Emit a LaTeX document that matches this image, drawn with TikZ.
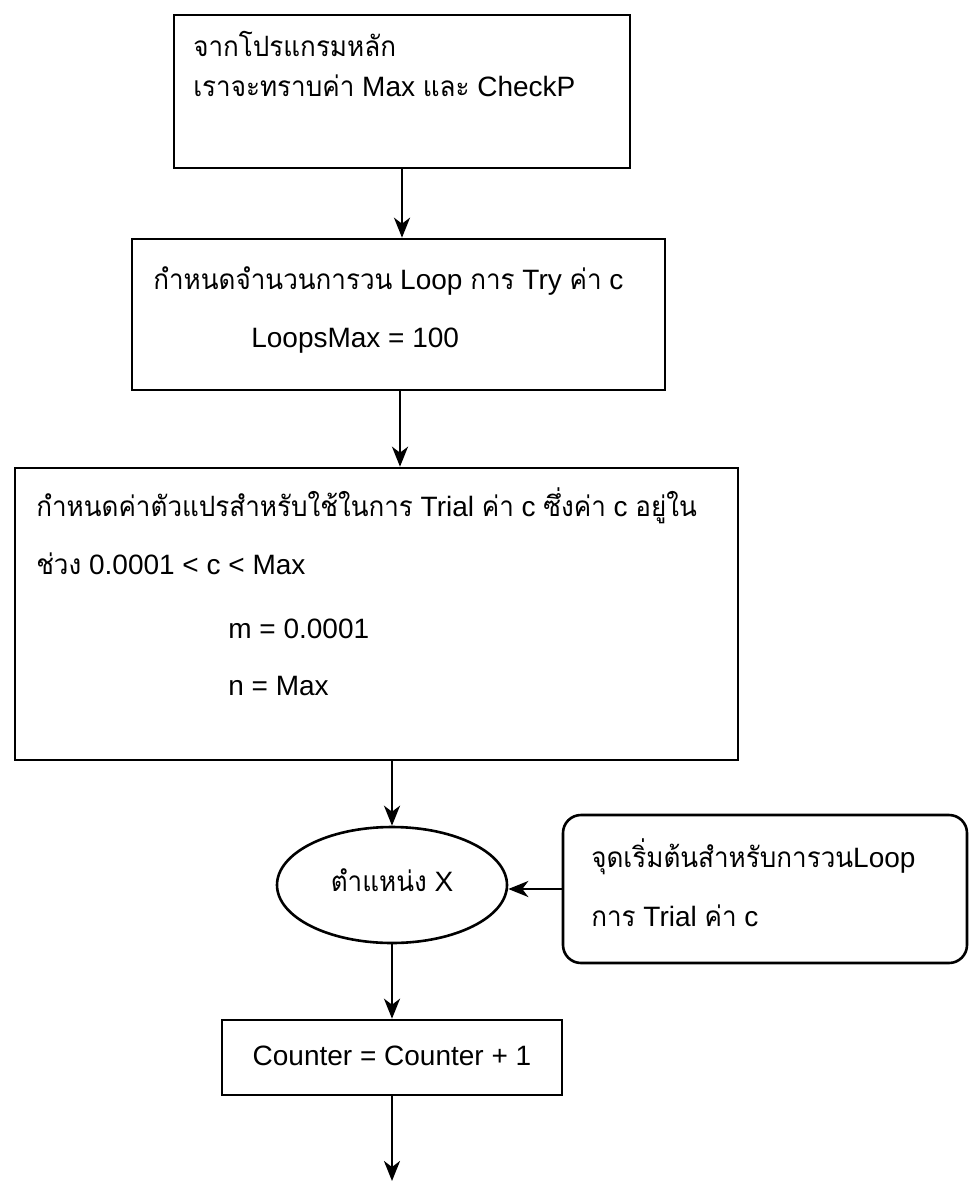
\documentclass[tikz,border=0pt]{standalone}
\usepackage{fontspec}
\setmainfont{Liberation Sans}
\newfontfamily\thaifont[Script=Thai,FakeStretch=0.93]{Loma}
\usetikzlibrary{arrows.meta,shapes.geometric,fit,calc}

\begin{document}
\begin{tikzpicture}[x=0.5pt,y=-0.5pt,
  line width=1.3pt,
  box/.style={draw,rectangle,inner sep=0pt},
  rbox/.style={draw,rectangle,rounded corners=9pt,inner sep=0pt},
  oval/.style={draw,ellipse,inner sep=0pt,minimum width=115pt,minimum height=58pt},
  txt/.style={inner sep=0pt,anchor=base west,font=\fontsize{14}{16}\selectfont},
  ctxt/.style={inner sep=0pt,anchor=base,font=\fontsize{14}{16}\selectfont},
  arr/.style={-{Stealth[length=10pt,width=8pt,inset=3pt]}}]
\useasboundingbox (0,0) rectangle (970,1183);

% process boxes
\node[box,fit={(174,15) (630,168)}] (b1) {};
\node[box,fit={(132,239) (665,390)}] (b2) {};
\node[box,fit={(15,468) (738,760)}] (b3) {};
\node[oval] (ell) at (392,885) {};
\node[rbox,fit={(563,815) (967,963)}] (rb) {};
\node[box,fit={(222,1020) (562,1095)}] (cnt) {};

% texts
\node[txt] (t1a) at (192,56) {{\thaifont จากโปรแกรมหลัก}};
\node[txt] (t1b) at (192,96) {{\thaifont เราจะทราบค่า} Max {\thaifont และ} CheckP};
\node[txt] (t2a) at (152,289) {{\thaifont กำหนดจำนวนการวน} Loop {\thaifont การ} Try {\thaifont ค่า} c};
\node[txt] (t2b) at (250,347) {LoopsMax = 100};
\node[txt] (t3a) at (35,516) {{\thaifont กำหนดค่าตัวแปรสำหรับใช้ในการ} Trial {\thaifont ค่า} c {\thaifont ซึ่งค่า} c {\thaifont อยู่ใน}};
\node[txt] (t3b) at (35,574) {{\thaifont ช่วง} 0.0001 < c < Max};
\node[txt] (t3c) at (227,638) {m = 0.0001};
\node[txt] (t3d) at (227,695) {n = Max};
\node[ctxt] (te) at (392,891) {{\thaifont ตำแหน่ง} X};
\node[txt] (tra) at (590,867) {{\thaifont จุดเริ่มต้นสำหรับการวน}Loop};
\node[txt] (trb) at (590,926) {{\thaifont การ} Trial {\thaifont ค่า} c};
\node[ctxt] (tc) at (392,1065) {Counter = Counter + 1};

% connectors
\coordinate (c1) at (402,0);
\coordinate (c2) at (400,0);
\coordinate (fin) at (392,1181);
\draw[arr] (b1.south -| c1) -- (b2.north -| c1);
\draw[arr] (b2.south -| c2) -- (b3.north -| c2);
\draw[arr] (b3.south -| ell.north) -- (ell.north);
\draw[arr] (rb.west) -- (rb.west -| ell.east);
\draw[arr] (ell.south) -- (cnt.north -| ell.south);
\draw[arr] (cnt.south -| fin) -- (fin);
\end{tikzpicture}
\end{document}
